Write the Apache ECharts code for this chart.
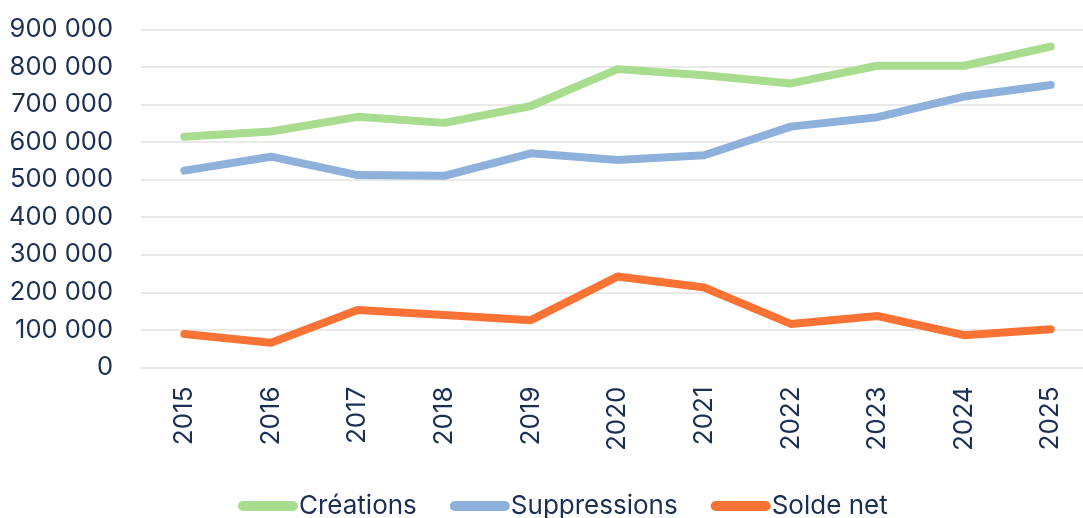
<!DOCTYPE html>
<html>
<head>
<meta charset="utf-8">
<script src="https://cdn.jsdelivr.net/npm/echarts@6/dist/echarts.min.js"></script>
<style>
  html, body { margin: 0; padding: 0; background: #ffffff; }
  #chart { width: 1083px; height: 518px; }
</style>
</head>
<body>
<div id="chart"></div>
<script>
// Années
const years = ['2015', '2016', '2017', '2018', '2019', '2020', '2021', '2022', '2023', '2024', '2025'];

// Créations, suppressions et solde net
const creations    = [614000, 628000, 667000, 651000, 696000, 794000, 778000, 756000, 803000, 803000, 854000];
const suppressions = [524000, 561000, 512000, 510000, 570000, 552000, 565000, 641000, 666000, 721000, 752000];
const soldeNet     = [89000, 66000, 153000, 140000, 126000, 242000, 213000, 116000, 137000, 86000, 102000];

const seriesNames = ['Créations', 'Suppressions', 'Solde net'];
const seriesColors = ['#a8dc8e', '#8eb1dc', '#fb7235'];

const textColor = '#1b2f54';
const fontFamily = 'Inter, "DejaVu Sans", sans-serif';

// séparateur de milliers : espace
const fmt = v => String(v).replace(/\B(?=(\d{3})+(?!\d))/g, ' ');

// pastille arrondie pour la légende
const pillIcon = 'path://M5,0 L55,0 A5,5 0 0 1 55,10 L5,10 A5,5 0 0 1 5,0 Z';

const chart = echarts.init(document.getElementById('chart'), null, { renderer: 'canvas' });

const makeSeries = (name, data, color) => ({
  name,
  type: 'line',
  data,
  symbol: 'none',
  smooth: false,
  lineStyle: { width: 8, color, cap: 'round', join: 'round' },
  itemStyle: { color },
  emphasis: { disabled: true }
});

chart.setOption({
  animation: false,
  textStyle: { fontFamily },
  grid: {
    left: 141,
    top: 29.3,
    width: 953,
    height: 338.2,
    containLabel: false,
    outerBoundsMode: 'none'
  },
  legend: {
    data: seriesNames,
    top: 488,
    left: 233,
    icon: pillIcon,
    itemWidth: 60,
    itemHeight: 10,
    itemGap: 33,
    textStyle: { color: textColor, fontSize: 26, fontFamily, padding: [0, 0, 0, -4] }
  },
  xAxis: {
    type: 'category',
    data: years,
    boundaryGap: true,
    axisLine: { show: true, lineStyle: { color: '#ebe8e8', width: 2 } },
    axisTick: { show: false },
    axisLabel: {
      rotate: 90,
      margin: 19,
      color: textColor,
      fontSize: 26,
      fontFamily
    }
  },
  yAxis: {
    type: 'value',
    min: 0,
    max: 900000,
    interval: 100000,
    axisLine: { show: false },
    axisTick: { show: false },
    splitLine: { lineStyle: { color: '#ebe8e8', width: 2 } },
    axisLabel: {
      color: textColor,
      fontSize: 25.5,
      margin: 28,
      fontFamily,
      formatter: fmt
    }
  },
  series: [
    makeSeries(seriesNames[0], creations, seriesColors[0]),
    makeSeries(seriesNames[1], suppressions, seriesColors[1]),
    makeSeries(seriesNames[2], soldeNet, seriesColors[2])
  ]
});
</script>
</body>
</html>
